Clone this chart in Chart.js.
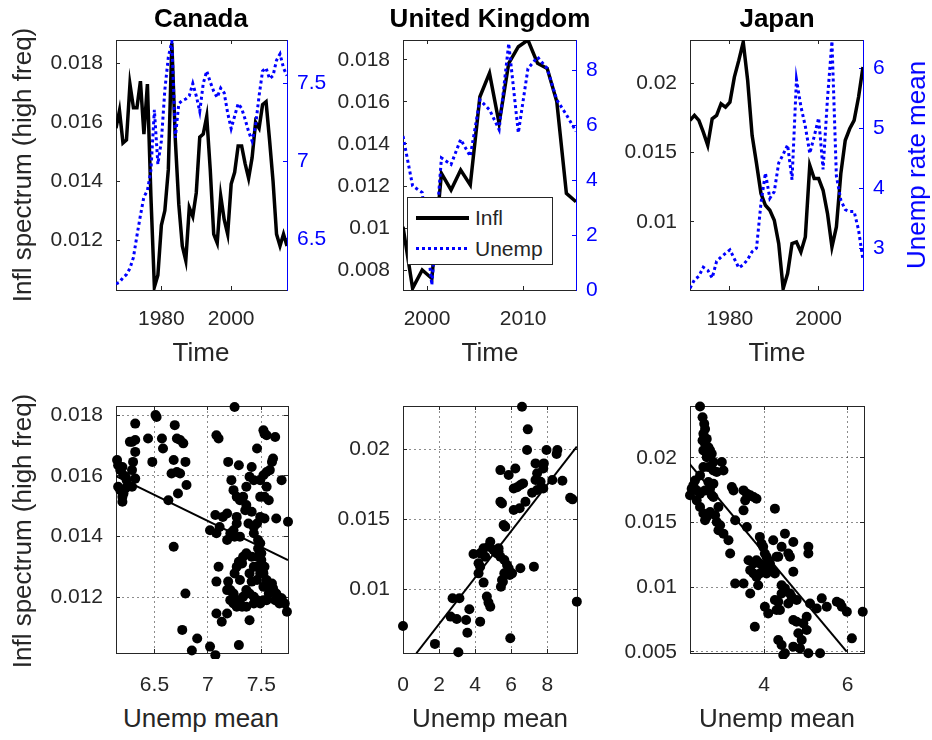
<!DOCTYPE html>
<html>
<head>
<meta charset="utf-8">
<script src="https://cdn.jsdelivr.net/npm/chart.js"></script>
<style>
  body { margin: 0; background: #fff; }
  #page { position: relative; width: 932px; height: 740px; overflow: hidden; background: #fff;
          font-family: "Liberation Sans", Arial, sans-serif; color: #262626; }
  canvas { position: absolute; }
  .lbl { position: absolute; line-height: 1; white-space: nowrap; transform: translate(-50%, -50%); font-size: 26px; }
  .rot { transform: translate(-50%, -50%) rotate(-90deg); }
  .ttl { font-weight: bold; color: #000; }
  #legend { position: absolute; left: 407px; top: 197px; width: 144px; height: 66px; border: 1px solid #262626; background: #fff; }
  #legend .row { position: absolute; left: 0; height: 22px; font-size: 21px; line-height: 22px; }
  #legend .swatch { position: absolute; left: 8px; width: 53px; }
  #legend .txt { position: absolute; left: 67px; top: 0; }
</style>
</head>
<body>
<div id="page">
  <canvas id="canadaTime"></canvas>
  <canvas id="ukTime"></canvas>
  <canvas id="japanTime"></canvas>
  <canvas id="canadaScatter"></canvas>
  <canvas id="ukScatter"></canvas>
  <canvas id="japanScatter"></canvas>

  <div class="lbl ttl" style="left:201px;top:18px">Canada</div>
  <div class="lbl ttl" style="left:490px;top:18px">United Kingdom</div>
  <div class="lbl ttl" style="left:777px;top:18px">Japan</div>

  <div class="lbl" style="left:201px;top:352px">Time</div>
  <div class="lbl" style="left:490px;top:352px">Time</div>
  <div class="lbl" style="left:777px;top:352px">Time</div>

  <div class="lbl" style="left:201px;top:718px">Unemp mean</div>
  <div class="lbl" style="left:490px;top:718px">Unemp mean</div>
  <div class="lbl" style="left:777px;top:718px">Unemp mean</div>

  <div class="lbl rot" style="left:22px;top:165px">Infl spectrum (high freq)</div>
  <div class="lbl rot" style="left:22px;top:531px">Infl spectrum (high freq)</div>
  <div class="lbl rot" style="left:916px;top:165px;color:#0000ff">Unemp rate mean</div>

  <div id="legend">
    <div class="row" style="top:9px">
      <div class="swatch" style="top:9px;height:4px;background:#000"></div>
      <div class="txt">Infl</div>
    </div>
    <div class="row" style="top:40px">
      <div class="swatch" style="top:9px;height:3px;background:repeating-linear-gradient(90deg,#0000ff 0 3px,transparent 3px 6px)"></div>
      <div class="txt">Unemp</div>
    </div>
  </div>
</div>

<script>
// DATA

// top row: time series (Infl = left axis, Unemp = right axis)
const canadaYears = [1967, 1968, 1969, 1970, 1971, 1972, 1973, 1974, 1975, 1976,
  1977, 1978, 1979, 1980, 1981, 1982, 1983, 1984, 1985, 1986,
  1987, 1988, 1989, 1990, 1991, 1992, 1993, 1994, 1995, 1996,
  1997, 1998, 1999, 2000, 2001, 2002, 2003, 2004, 2005, 2006,
  2007, 2008, 2009, 2010, 2011, 2012, 2013, 2014, 2015, 2016];
const canadaInfl = [0.0158, 0.0164, 0.0153, 0.0154, 0.0173, 0.0165, 0.0165, 0.0174, 0.0156, 0.0173,
  0.0135, 0.0104, 0.0108, 0.0125, 0.0130, 0.0144, 0.0187, 0.0154, 0.0132, 0.0118,
  0.0113, 0.0131, 0.0128, 0.0136, 0.0155, 0.0156, 0.0162, 0.0144, 0.0122, 0.0119,
  0.0135, 0.0127, 0.0122, 0.0139, 0.0143, 0.0152, 0.0152, 0.0146, 0.0141, 0.0148,
  0.0160, 0.0158, 0.0166, 0.0167, 0.0154, 0.0140, 0.0122, 0.0118, 0.0122, 0.0118];
const canadaUnemp = [6.21, 6.22, 6.25, 6.27, 6.31, 6.38, 6.52, 6.65, 6.77, 6.81,
  6.94, 7.33, 6.98, 7.13, 7.46, 7.67, 7.77, 7.15, 7.37, 7.39,
  7.40, 7.42, 7.50, 7.42, 7.32, 7.50, 7.58, 7.51, 7.45, 7.41,
  7.47, 7.44, 7.31, 7.21, 7.29, 7.37, 7.34, 7.27, 7.19, 7.13,
  7.23, 7.42, 7.58, 7.60, 7.53, 7.55, 7.65, 7.69, 7.60, 7.55];

const ukYears = [1997.5, 1998.5, 1999.5, 2000.5, 2001.5, 2002.5, 2003.5, 2004.5, 2005.5, 2006.5,
  2007.5, 2008.5, 2009.5, 2010.5, 2011.5, 2012.5, 2013.5, 2014.5, 2015.5];
const ukInfl = [0.01006, 0.00713, 0.0080, 0.0076, 0.0126, 0.01181, 0.01276, 0.01205, 0.01625, 0.01737,
  0.01498, 0.01784, 0.01863, 0.01895, 0.01784, 0.0176, 0.01602, 0.01165, 0.01125];
const ukUnemp = [5.6, 3.79, 3.55, 0.18, 4.81, 4.57, 5.48, 4.87, 6.92, 6.56,
  5.84, 8.97, 5.72, 8.06, 8.48, 8.06, 6.92, 6.38, 5.78];

const japanYears = [1971, 1972, 1973, 1974, 1975, 1976, 1977, 1978, 1979, 1980,
  1981, 1982, 1983, 1984, 1985, 1986, 1987, 1988, 1989, 1990,
  1991, 1992, 1993, 1994, 1995, 1996, 1997, 1998, 1999, 2000,
  2001, 2002, 2003, 2004, 2005, 2006, 2007, 2008, 2009, 2010];
const japanInfl = [0.01731, 0.01767, 0.01731, 0.01647, 0.01552, 0.01743, 0.01767, 0.01851, 0.01827, 0.01863,
  0.02043, 0.02163, 0.02295, 0.02019, 0.01624, 0.0142, 0.01204, 0.0112, 0.01084, 0.01012,
  0.00844, 0.0052, 0.00628, 0.00844, 0.00856, 0.00784, 0.00892, 0.01408, 0.01312, 0.01312,
  0.01228, 0.0106, 0.0082, 0.00964, 0.01348, 0.01588, 0.01671, 0.01731, 0.01899, 0.02115];
const japanUnemp = [2.33, 2.47, 2.53, 2.68, 2.63, 2.50, 2.78, 2.85, 2.91, 2.97,
  2.82, 2.67, 2.72, 2.81, 2.94, 3.0, 3.75, 4.25, 3.83, 3.94,
  4.42, 4.56, 4.72, 4.14, 5.81, 5.36, 5.03, 4.58, 4.86, 5.17,
  4.31, 5.5, 6.45, 4.2, 3.8, 3.64, 3.61, 3.61, 3.3, 2.8];

// bottom row: Unemp mean (x) vs Infl spectrum (y), plus fitted line ends
const canadaScatX = [6.15, 6.16, 6.18, 6.20, 6.21, 6.23, 6.24, 6.16, 6.18, 6.20,
  6.21, 6.23, 6.20, 6.29, 6.32, 6.29, 6.30, 6.32, 6.29, 6.32,
  6.27, 6.32, 6.44, 6.48, 6.51, 6.52, 6.57, 6.58, 6.69, 6.71,
  6.74, 6.77, 6.68, 6.79, 6.66, 6.71, 6.74, 6.72, 6.80, 6.63,
  6.68, 6.79, 6.76, 6.85, 6.90, 7.02, 7.07, 7.08, 7.08, 7.13,
  7.10, 7.08, 7.25, 7.02, 7.07, 7.08, 7.11, 7.14, 7.18, 7.19,
  7.22, 7.24, 7.27, 7.29, 7.18, 7.21, 7.24, 7.27, 7.30, 7.30,
  7.33, 7.36, 7.39, 7.41, 7.43, 7.35, 7.38, 7.43, 7.46, 7.49,
  7.52, 7.53, 7.55, 7.63, 7.52, 7.55, 7.58, 7.60, 7.61, 7.55,
  7.49, 7.53, 7.57, 7.49, 7.53, 7.64, 7.69, 7.75, 7.36, 7.41,
  7.43, 7.46, 7.47, 7.25, 7.27, 7.10, 7.19, 7.18, 7.21, 7.18,
  7.21, 7.24, 7.25, 7.27, 7.29, 7.32, 7.33, 7.36, 7.39, 7.41,
  7.43, 7.46, 7.47, 7.49, 7.50, 7.52, 7.53, 7.52, 7.55, 7.60,
  7.61, 7.64, 7.66, 7.69, 7.72, 7.74, 7.24, 7.27, 7.30, 7.33,
  7.36, 7.39, 7.43, 7.46, 7.49, 7.52, 7.55, 7.57, 7.36, 7.39,
  7.24, 7.46, 7.49, 7.50, 7.46, 7.41, 7.30, 7.32, 7.29, 7.43,
  7.58, 7.63, 7.67];
const canadaScatY = [0.01652, 0.01635, 0.01619, 0.01629, 0.01602, 0.01597, 0.01586, 0.01564, 0.01553, 0.01531,
  0.01542, 0.01559, 0.01515, 0.01564, 0.01591, 0.01619, 0.01646, 0.01679, 0.01712, 0.01718,
  0.01712, 0.01772, 0.01723, 0.01646, 0.0180, 0.01794, 0.01723, 0.0169, 0.01767, 0.01723,
  0.01718, 0.01707, 0.01652, 0.01646, 0.01608, 0.01613, 0.01608, 0.01542, 0.0157, 0.0152,
  0.01367, 0.01213, 0.01093, 0.01025, 0.01065, 0.01038, 0.0101, 0.01252, 0.01147, 0.0112,
  0.01723, 0.01734, 0.01827, 0.01421, 0.01471, 0.01411, 0.01432, 0.01465, 0.01476, 0.01646,
  0.01586, 0.01553, 0.01531, 0.01635, 0.01389, 0.01411, 0.01421, 0.01465, 0.0152, 0.014,
  0.01531, 0.01564, 0.01597, 0.01629, 0.01586, 0.01487, 0.01443, 0.01411, 0.0169, 0.01586,
  0.0175, 0.01739, 0.01734, 0.01728, 0.01602, 0.01613, 0.01619, 0.01646, 0.01657, 0.01564,
  0.01531, 0.01531, 0.0152, 0.01465, 0.0146, 0.0146, 0.01586, 0.01449, 0.01504, 0.01482,
  0.01432, 0.01443, 0.01389, 0.014, 0.01443, 0.01301, 0.01252, 0.01224, 0.01191, 0.01147,
  0.01224, 0.01213, 0.01279, 0.01301, 0.01317, 0.01312, 0.01334, 0.01345, 0.01279, 0.01252,
  0.01301, 0.01334, 0.01361, 0.01378, 0.01323, 0.01279, 0.01301, 0.01235, 0.01257, 0.01246,
  0.0123, 0.01213, 0.01202, 0.01197, 0.0118, 0.01153, 0.0118, 0.01169, 0.01191, 0.01202,
  0.01224, 0.01213, 0.01202, 0.01191, 0.0118, 0.01191, 0.01191, 0.01213, 0.01169, 0.01125,
  0.01208, 0.01257, 0.01279, 0.01345, 0.01301, 0.01334, 0.01257, 0.01169, 0.01043, 0.0118,
  0.0123, 0.01191, 0.0118];
const canadaFitX = [6.14, 7.75];
const canadaFitY = [0.01599, 0.01323];

const ukScatX = [0.00, 1.77, 3.07, 5.95, 9.64, 6.60, 6.92, 6.88, 7.96, 8.56,
  8.52, 7.35, 7.81, 7.78, 7.44, 7.35, 7.63, 7.78, 8.28, 8.84,
  5.40, 5.86, 6.23, 6.14, 6.33, 6.51, 6.66, 6.14, 6.47, 6.79,
  7.16, 7.44, 9.40, 9.27, 5.40, 5.49, 5.58, 5.67, 5.30, 4.84,
  4.74, 5.02, 4.47, 4.28, 4.56, 4.19, 3.91, 4.28, 5.30, 5.12,
  5.21, 5.40, 5.62, 5.77, 5.86, 5.92, 5.62, 5.54, 5.43, 5.49,
  4.19, 4.47, 4.65, 4.74, 4.84, 6.05, 6.51, 7.26, 2.75, 3.13,
  2.64, 2.98, 3.50, 3.68, 3.57, 4.28];
const ukScatY = [0.00738, 0.0061, 0.0055, 0.0065, 0.00912, 0.02305, 0.02143, 0.01995, 0.01995, 0.01995,
  0.01967, 0.0190, 0.0190, 0.01864, 0.01829, 0.01781, 0.01769, 0.01721, 0.01781, 0.01776,
  0.01852, 0.01817, 0.01864, 0.01721, 0.01729, 0.01745, 0.01757, 0.01567, 0.01579, 0.01626,
  0.0169, 0.0171, 0.01643, 0.01655, 0.01626, 0.01614, 0.0146, 0.01448, 0.01269, 0.0134,
  0.01305, 0.01281, 0.01293, 0.01257, 0.01233, 0.01186, 0.01252, 0.01162, 0.01293, 0.01269,
  0.01257, 0.01233, 0.0121, 0.01174, 0.0115, 0.01102, 0.01114, 0.01055, 0.01019, 0.01067,
  0.01114, 0.01048, 0.00948, 0.00905, 0.00876, 0.01114, 0.0115, 0.01162, 0.00936, 0.00936,
  0.00805, 0.00788, 0.00781, 0.00857, 0.0069, 0.00769];
const ukFitX = [0.74, 9.64];
const ukFitY = [0.00543, 0.02019];

const japanScatX = [2.47, 2.53, 2.57, 2.59, 2.55, 2.57, 2.53, 2.63, 2.59, 2.67,
  2.55, 2.71, 2.75, 2.63, 2.79, 2.67, 2.79, 2.87, 2.99, 3.03,
  2.55, 2.47, 2.35, 2.31, 2.27, 2.23, 2.39, 2.47, 2.59, 2.71,
  2.79, 2.67, 2.75, 2.39, 2.47, 2.55, 2.59, 2.63, 2.71, 2.83,
  2.87, 2.95, 2.91, 3.03, 3.15, 3.19, 2.79, 2.91, 3.23, 3.27,
  3.31, 3.51, 3.59, 3.67, 3.75, 3.82, 3.55, 3.51, 3.59, 3.31,
  3.51, 3.67, 3.78, 3.63, 3.75, 3.82, 3.90, 3.67, 3.75, 3.82,
  3.90, 3.86, 3.90, 3.94, 3.98, 4.02, 4.06, 4.10, 4.14, 3.98,
  4.06, 4.18, 4.26, 4.26, 4.22, 4.30, 4.34, 4.42, 4.50, 4.58,
  4.62, 4.70, 5.06, 5.06, 4.70, 4.42, 4.42, 4.50, 4.62, 4.66,
  4.78, 4.58, 4.02, 4.10, 4.26, 4.34, 4.38, 4.30, 4.70, 4.78,
  4.94, 5.02, 5.02, 4.82, 4.90, 4.70, 4.86, 5.06, 5.34, 4.34,
  4.42, 4.50, 4.46, 5.10, 5.26, 5.38, 5.50, 5.74, 5.82, 5.86,
  5.98, 6.10, 6.36];
const japanScatY = [0.02396, 0.02313, 0.02262, 0.02223, 0.02185, 0.02159, 0.02134, 0.02146, 0.02108, 0.02082,
  0.02057, 0.02057, 0.02031, 0.02005, 0.01967, 0.01928, 0.01902, 0.0189, 0.01967, 0.01902,
  0.01928, 0.01864, 0.01825, 0.01787, 0.01761, 0.0171, 0.01748, 0.01723, 0.01748, 0.01761,
  0.018, 0.01813, 0.0171, 0.01671, 0.0162, 0.01569, 0.01517, 0.01543, 0.01581, 0.01556,
  0.01504, 0.01479, 0.0144, 0.01414, 0.01363, 0.0126, 0.01697, 0.0162, 0.01774, 0.01748,
  0.01517, 0.01748, 0.01723, 0.0171, 0.01697, 0.01684, 0.01671, 0.01594, 0.01466, 0.01029,
  0.01029, 0.00952, 0.00695, 0.01209, 0.01183, 0.01209, 0.01183, 0.01132, 0.01106, 0.0108,
  0.01106, 0.01016, 0.01389, 0.01337, 0.01312, 0.0126, 0.01235, 0.01209, 0.01183, 0.01158,
  0.01106, 0.01132, 0.01106, 0.01607, 0.01363, 0.01235, 0.01235, 0.01312, 0.01414, 0.0126,
  0.01235, 0.0135, 0.01312, 0.0126, 0.01119, 0.01016, 0.00952, 0.00991, 0.00952, 0.00926,
  0.00901, 0.00875, 0.00849, 0.00798, 0.00901, 0.00888, 0.00824, 0.00824, 0.00747, 0.00734,
  0.00721, 0.00772, 0.0067, 0.00644, 0.00592, 0.00541, 0.00528, 0.0049, 0.0049, 0.00592,
  0.00554, 0.0049, 0.00477, 0.00875, 0.00836, 0.00914, 0.00849, 0.00888, 0.00875, 0.00849,
  0.00811, 0.00605, 0.00811];
const japanFitX = [2.215, 5.976];
const japanFitY = [0.01954, 0.00503];

// tick labels
const canadaTimeTicks = [1980, 2000];
const canadaInflTicks = [0.012, 0.014, 0.016, 0.018];
const canadaUnempTicks = [6.5, 7, 7.5];
const ukTimeTicks = [2000, 2010];
const ukInflTicks = [0.008, 0.01, 0.012, 0.014, 0.016, 0.018];
const ukUnempTicks = [0, 2, 4, 6, 8];
const japanTimeTicks = [1980, 2000];
const japanInflTicks = [0.01, 0.015, 0.02];
const japanUnempTicks = [3, 4, 5, 6];

const canadaMeanTicks = [6.5, 7, 7.5];
const canadaSpecTicks = [0.012, 0.014, 0.016, 0.018];
const ukMeanTicks = [0, 2, 4, 6, 8];
const ukSpecTicks = [0.01, 0.015, 0.02];
const japanMeanTicks = [4, 6];
const japanSpecTicks = [0.005, 0.01, 0.015, 0.02];

// STYLE / LAYOUT

const INK = '#262626';
const BLUE = '#0000ff';
const FONT = "'Liberation Sans', Arial, sans-serif";
const LEFT_W = 100, RIGHT_W = 50, TOP_PAD = 40, BOTTOM_H = 50;

function fmt(v) {
  return String(Math.round(v * 1e6) / 1e6);
}

function pairs(xs, ys) {
  return xs.map((x, i) => ({ x: x, y: ys[i] }));
}

// one axis; labels=false gives a bare box side with inward tick marks
function axis(position, min, max, ticks, o) {
  return {
    type: 'linear',
    position: position,
    min: min,
    max: max,
    afterBuildTicks: s => { s.ticks = ticks.map(v => ({ value: v })); },
    afterFit: s => {
      if (position === 'left') s.width = LEFT_W;
      else if (position === 'right') s.width = RIGHT_W;
      else if (position === 'bottom') s.height = BOTTOM_H;
      else s.height = 0;
    },
    ticks: {
      display: !!o.labels,
      color: o.color,
      font: { family: FONT, size: 21 },
      padding: o.pad || 0,
      autoSkip: false,
      maxRotation: 0,
      callback: fmt
    },
    grid: {
      drawOnChartArea: !!o.grid,
      color: 'rgba(0,0,0,0.45)',
      lineWidth: 1,
      tickLength: -4,
      tickColor: o.color,
      tickWidth: 1
    },
    border: { color: o.color, width: 1, dash: [2, 3] }
  };
}

function placeCanvas(id, box) {
  const cv = document.getElementById(id);
  cv.width = LEFT_W + box.w + RIGHT_W;
  cv.height = TOP_PAD + box.h + BOTTOM_H;
  cv.style.left = (box.x - LEFT_W) + 'px';
  cv.style.top = (box.y - TOP_PAD) + 'px';
  return cv;
}

const baseOptions = {
  responsive: false,
  animation: false,
  events: [],
  layout: { padding: { top: TOP_PAD }, autoPadding: false },
  plugins: { legend: { display: false }, tooltip: { enabled: false } }
};

function timePanel(id, box, years, infl, unemp, r, t) {
  const cv = placeCanvas(id, box);
  new Chart(cv, {
    type: 'line',
    data: {
      datasets: [
        { label: 'Unemp', data: pairs(years, unemp), yAxisID: 'y2', borderColor: BLUE,
          borderWidth: 3, borderDash: [3, 3], pointRadius: 0, tension: 0, order: 0 },
        { label: 'Infl', data: pairs(years, infl), yAxisID: 'y', borderColor: '#000',
          borderWidth: 3.5, pointRadius: 0, tension: 0, order: 1 }
      ]
    },
    options: Object.assign({}, baseOptions, {
      scales: {
        x: axis('bottom', r.x[0], r.x[1], t.x, { labels: true, color: INK, pad: 21 }),
        x2: axis('top', r.x[0], r.x[1], t.x, { color: INK }),
        y: axis('left', r.y[0], r.y[1], t.y, { labels: true, color: INK, pad: 17 }),
        y2: axis('right', r.y2[0], r.y2[1], t.y2, { labels: true, color: BLUE, pad: 14 })
      }
    })
  });
}

function scatterPanel(id, box, xs, ys, fitX, fitY, r, t) {
  const cv = placeCanvas(id, box);
  new Chart(cv, {
    type: 'scatter',
    data: {
      datasets: [
        { type: 'line', data: pairs(fitX, fitY), borderColor: '#000', borderWidth: 2,
          pointRadius: 0, tension: 0, order: 0 },
        { data: pairs(xs, ys), pointBackgroundColor: '#000', pointBorderColor: '#000',
          pointBorderWidth: 0, pointRadius: 5, clip: 6, order: 1 }
      ]
    },
    options: Object.assign({}, baseOptions, {
      scales: {
        x: axis('bottom', r.x[0], r.x[1], t.x, { labels: true, color: INK, pad: 24, grid: true }),
        x2: axis('top', r.x[0], r.x[1], t.x, { color: INK }),
        y: axis('left', r.y[0], r.y[1], t.y, { labels: true, color: INK, pad: 17, grid: true }),
        y2: axis('right', r.y[0], r.y[1], t.y, { color: INK })
      }
    })
  });
}

timePanel('canadaTime', { x: 116, y: 40, w: 171, h: 250 }, canadaYears, canadaInfl, canadaUnemp,
  { x: [1967, 2016], y: [0.0103, 0.0188], y2: [6.17, 7.78] },
  { x: canadaTimeTicks, y: canadaInflTicks, y2: canadaUnempTicks });
timePanel('ukTime', { x: 403, y: 40, w: 173, h: 250 }, ukYears, ukInfl, ukUnemp,
  { x: [1997.5, 2015.5], y: [0.00705, 0.01895], y2: [0, 9.1] },
  { x: ukTimeTicks, y: ukInflTicks, y2: ukUnempTicks });
timePanel('japanTime', { x: 690, y: 40, w: 173, h: 250 }, japanYears, japanInfl, japanUnemp,
  { x: [1971, 2010], y: [0.0051, 0.0231], y2: [2.3, 6.47] },
  { x: japanTimeTicks, y: japanInflTicks, y2: japanUnempTicks });

scatterPanel('canadaScatter', { x: 116, y: 406, w: 172, h: 247 }, canadaScatX, canadaScatY, canadaFitX, canadaFitY,
  { x: [6.14, 7.75], y: [0.01017, 0.0183] }, { x: canadaMeanTicks, y: canadaSpecTicks });
scatterPanel('ukScatter', { x: 403, y: 406, w: 174, h: 247 }, ukScatX, ukScatY, ukFitX, ukFitY,
  { x: [0, 9.65], y: [0.00545, 0.0231] }, { x: ukMeanTicks, y: ukSpecTicks });
scatterPanel('japanScatter', { x: 690, y: 406, w: 174, h: 247 }, japanScatX, japanScatY, japanFitX, japanFitY,
  { x: [2.23, 6.39], y: [0.00492, 0.024] }, { x: japanMeanTicks, y: japanSpecTicks });
</script>
</body>
</html>
